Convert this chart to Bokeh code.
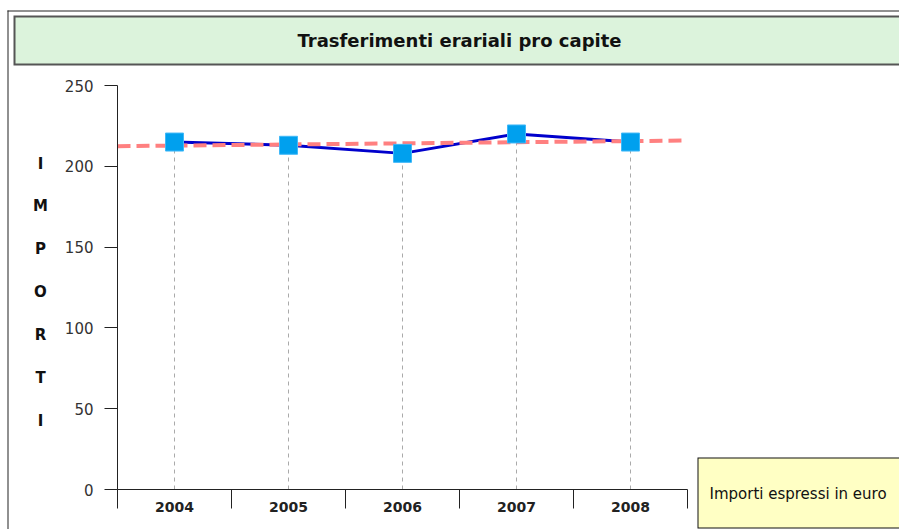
import numpy as np
from bokeh.plotting import figure
from bokeh.models import Range1d, FixedTicker, BoxAnnotation, Label
from bokeh.embed import file_html
from bokeh.resources import INLINE

# ---- data ----
years = [2004, 2005, 2006, 2007, 2008]
values = [215, 213, 208, 220, 215]
y_ticks = [0, 50, 100, 150, 200, 250]
title_text = "Trasferimenti erariali pro capite"
axis_title = "IMPORTI"
note_text = "Importi espressi in euro"

W, H = 899, 529
# layout: pixel position of the axes on the canvas
AX_LEFT, AX_RIGHT = 117, 687     # x of first / last category boundary
AX_ZERO, AX_TOP = 489, 85        # y of value 0 / value 250
x_lo, x_hi = years[0] - 0.5, years[-1] + 0.5
y_lo, y_hi = y_ticks[0], y_ticks[-1]
kx = (x_hi - x_lo) / (AX_RIGHT - AX_LEFT)
ky = (y_hi - y_lo) / (AX_ZERO - AX_TOP)


def dx(px):
    return x_lo + (px - AX_LEFT) * kx


def dy(py):
    return y_lo + (AX_ZERO - py) * ky


def rect(l, t, r, b, color):
    # keep every box inside the canvas
    l, r = max(l, 0), min(r, W)
    t, b = max(t, 0), min(b, H)
    return BoxAnnotation(left=dx(l), right=dx(r), top=dy(t), bottom=dy(b),
                         fill_color=color, fill_alpha=1, line_color=None,
                         level="underlay")


p = figure(width=W, height=H, output_backend="svg", toolbar_location=None,
           x_range=Range1d(dx(0), dx(W)), y_range=Range1d(dy(H), dy(0)),
           min_border=0, background_fill_color="white", border_fill_color="white")
p.xgrid.visible = False
p.ygrid.visible = False
p.outline_line_color = None

xa = p.xaxis[0]
xa.fixed_location = y_lo
xa.bounds = (x_lo, x_hi)
xa.ticker = FixedTicker(ticks=years, minor_ticks=[y - 0.5 for y in years] + [years[-1] + 0.5])
xa.major_tick_out = 0
xa.major_tick_in = 0
xa.minor_tick_out = 19
xa.minor_tick_in = 0
xa.minor_tick_line_color = "#222222"
xa.axis_line_color = "#222222"
xa.major_label_text_font = "DejaVu Sans"
xa.major_label_text_font_style = "bold"
xa.major_label_text_font_size = "14px"
xa.major_label_text_color = "#222222"
xa.major_label_standoff = -7

ya = p.yaxis[0]
ya.fixed_location = x_lo
ya.bounds = (y_lo, y_hi)
ya.ticker = FixedTicker(ticks=y_ticks)
ya.minor_tick_line_color = None
ya.major_tick_out = 13
ya.major_tick_in = 0
ya.major_tick_line_color = "#222222"
ya.axis_line_color = "#222222"
ya.major_label_text_font = "DejaVu Sans"
ya.major_label_text_font_size = "15px"
ya.major_label_text_color = "#333333"
ya.major_label_standoff = 11

# ---- decorations behind (boxes run to the right/bottom edge) ----
# outer frame: left and top edges
p.add_layout(rect(7, 10, W, 11, "#222222"))
p.add_layout(rect(7, 10, 8, H, "#222222"))
# green title band with dark border
p.add_layout(rect(13, 15, W, 65, "#555555"))
p.add_layout(rect(15, 17, W, 63, "#dcf3dc"))
# yellow note box with black border
p.add_layout(rect(697, 457, W, 528, "#111111"))
p.add_layout(rect(698, 458, W, 527, "#ffffc4"))

# ---- glyphs ----
p.segment(x0=years, y0=[y_lo] * len(years), x1=years, y1=values,
          line_color="#aaaaaa", line_width=1, line_dash="4 4")
p.line(years, values, line_color="#0000cc", line_width=3)
coef = np.polyfit(years, values, 1)
tx = [x_lo, x_hi]
ty = list(np.polyval(coef, tx))
p.line(tx, ty, line_color="#ff8080", line_width=4, line_dash="13 6")
p.scatter(years, values, marker="square", size=18, fill_color="#00a0ee",
          line_color="#40b8f8", line_width=1)

# ---- texts ----
p.add_layout(Label(x=dx(459), y=dy(40), text=title_text, text_align="center",
                   text_baseline="middle", text_font="DejaVu Sans",
                   text_font_style="bold", text_font_size="18px",
                   text_color="#111111"))

for i, ch in enumerate(axis_title):
    p.add_layout(Label(x=dx(40), y=dy(163 + 42.9 * i), text=ch, text_align="center",
                       text_baseline="middle", text_font="DejaVu Sans",
                       text_font_style="bold", text_font_size="15px",
                       text_color="#111111"))

p.add_layout(Label(x=dx(709), y=dy(493), text=note_text, text_align="left",
                   text_baseline="middle", text_font="DejaVu Sans",
                   text_font_size="15px", text_color="#111111"))

open("out.html", "w").write(file_html(p, INLINE))
